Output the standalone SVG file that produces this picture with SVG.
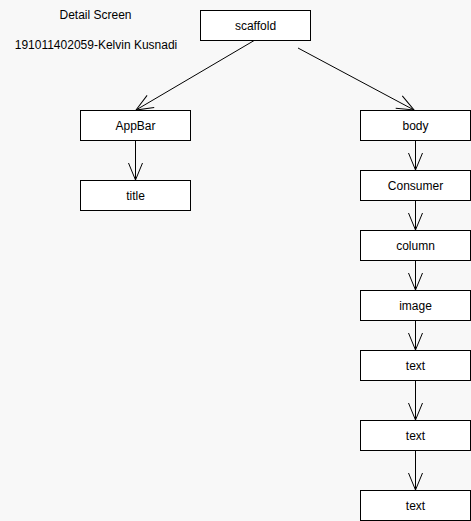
<svg xmlns="http://www.w3.org/2000/svg" width="471" height="521" viewBox="0 0 471 521">
<style>
.box{fill:#fff;stroke:#000;stroke-width:1}
.lbl{font-family:"Liberation Sans",Arial,sans-serif;font-size:12px;fill:#000;text-anchor:middle}
.edge{stroke:#000;stroke-width:1;fill:none}
</style>
<defs>
<marker id="open" markerUnits="userSpaceOnUse" viewBox="-19 -9 21 18" markerWidth="21" markerHeight="18" refX="0" refY="0" orient="auto">
<path d="M-17,-7 L0,0 L-17,7" fill="none" stroke="#000" stroke-width="1"/>
</marker>
</defs>
<rect width="471" height="521" fill="#f8f8f8"/>
<text class="lbl" x="95.5" y="19">Detail Screen</text>
<text class="lbl" x="96" y="48.5">191011402059-Kelvin Kusnadi</text>
<g id="connectors">
<line class="edge" x1="255" y1="40" x2="136" y2="110" marker-end="url(#open)"/>
<line class="edge" x1="298" y1="48" x2="414" y2="110" marker-end="url(#open)"/>
<line class="edge" x1="135.5" y1="140" x2="135.5" y2="180" marker-end="url(#open)"/>
<line class="edge" x1="415.5" y1="140" x2="415.5" y2="170" marker-end="url(#open)"/>
<line class="edge" x1="415.5" y1="200" x2="415.5" y2="230" marker-end="url(#open)"/>
<line class="edge" x1="415.5" y1="260" x2="415.5" y2="290" marker-end="url(#open)"/>
<line class="edge" x1="415.5" y1="320" x2="415.5" y2="350" marker-end="url(#open)"/>
<line class="edge" x1="415.5" y1="380" x2="415.5" y2="420" marker-end="url(#open)"/>
<line class="edge" x1="415.5" y1="450" x2="415.5" y2="490" marker-end="url(#open)"/>
</g>
<g id="scaffold"><rect class="box" x="200.5" y="10.5" width="110" height="30"/><text class="lbl" x="255.5" y="29.5">scaffold</text></g>
<g id="appbar"><rect class="box" x="80.5" y="110.5" width="110" height="30"/><text class="lbl" x="135.5" y="129.5">AppBar</text></g>
<g id="title"><rect class="box" x="80.5" y="180.5" width="110" height="30"/><text class="lbl" x="135.5" y="199.5">title</text></g>
<g id="body"><rect class="box" x="360.5" y="110.5" width="110" height="30"/><text class="lbl" x="415.5" y="129.5">body</text></g>
<g id="consumer"><rect class="box" x="360.5" y="170.5" width="110" height="30"/><text class="lbl" x="415.5" y="189.5">Consumer</text></g>
<g id="column"><rect class="box" x="360.5" y="230.5" width="110" height="30"/><text class="lbl" x="415.5" y="249.5">column</text></g>
<g id="image"><rect class="box" x="360.5" y="290.5" width="110" height="30"/><text class="lbl" x="415.5" y="309.5">image</text></g>
<g id="text1"><rect class="box" x="360.5" y="350.5" width="110" height="30"/><text class="lbl" x="415.5" y="369.5">text</text></g>
<g id="text2"><rect class="box" x="360.5" y="420.5" width="110" height="30"/><text class="lbl" x="415.5" y="439.5">text</text></g>
<g id="text3"><rect class="box" x="360.5" y="490.5" width="110" height="30"/><text class="lbl" x="415.5" y="509.5">text</text></g>
</svg>
